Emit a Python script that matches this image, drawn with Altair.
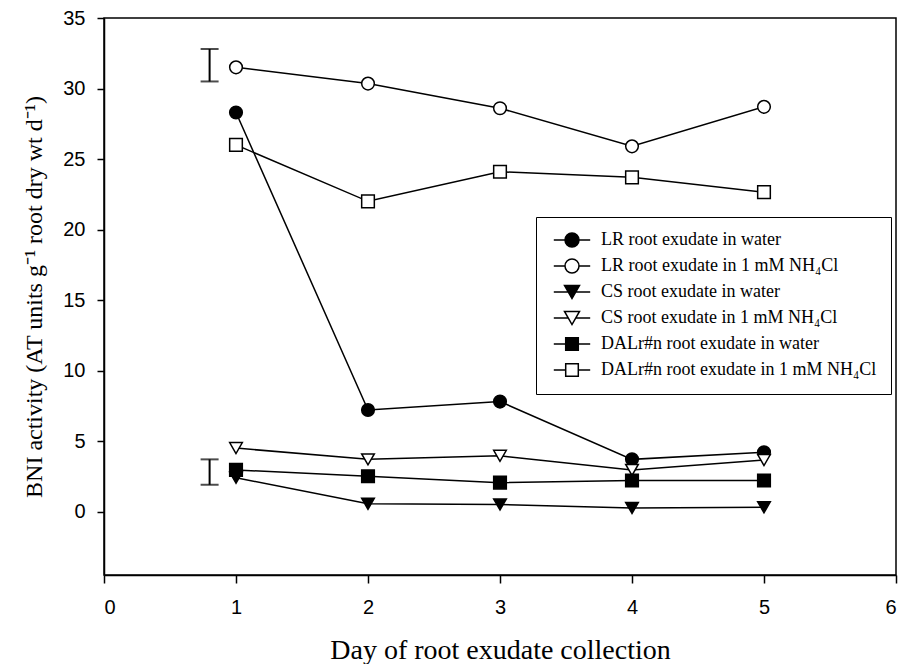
import altair as alt
import pandas as pd

days = [1, 2, 3, 4, 5]
series_names = [
    "LR root exudate in water",
    "LR root exudate in 1 mM NH₄Cl",
    "CS root exudate in water",
    "CS root exudate in 1 mM NH₄Cl",
    "DALr#n root exudate in water",
    "DALr#n root exudate in 1 mM NH₄Cl",
]
lr_water = [28.3, 7.2, 7.8, 3.7, 4.2]
lr_nh4 = [31.5, 30.35, 28.6, 25.9, 28.7]
cs_water = [2.4, 0.55, 0.5, 0.25, 0.3]
cs_nh4 = [4.5, 3.7, 3.95, 2.95, 3.65]
dal_water = [2.95, 2.5, 2.05, 2.2, 2.2]
dal_nh4 = [26.0, 22.0, 24.1, 23.7, 22.65]
values = [lr_water, lr_nh4, cs_water, cs_nh4, dal_water, dal_nh4]

point_shapes = ["circle", "circle", "triangle-down", "triangle-down", "square", "square"]
point_fills = ["black", "white", "black", "white", "black", "white"]
point_sizes = [160, 160, 225, 225, 160, 160]

# legend symbols: marker with a short line through it (unit = sqrt(symbolSize)/2)
legend_paths = [
    "M-2.6,0H-1M1,0H2.6M-1,0A1,1 0 1,0 1,0A1,1 0 1,0 -1,0Z",
    "M-2.6,0H-1M1,0H2.6M-1,0A1,1 0 1,0 1,0A1,1 0 1,0 -1,0Z",
    "M-2.6,0H-0.53M0.53,0H2.6M-1.07,-0.93L1.07,-0.93L0,0.93Z",
    "M-2.6,0H-0.53M0.53,0H2.6M-1.07,-0.93L1.07,-0.93L0,0.93Z",
    "M-2.6,0H-0.9M0.9,0H2.6M-0.9,-0.9H0.9V0.9H-0.9Z",
    "M-2.6,0H-0.9M0.9,0H2.6M-0.9,-0.9H0.9V0.9H-0.9Z",
]

err_day = [0.8, 0.8]
err_low = [30.5, 1.9]
err_high = [32.8, 3.7]

x_ticks = [0, 1, 2, 3, 4, 5, 6]
y_ticks = [0, 5, 10, 15, 20, 25, 30, 35]

rows = []
for name, vals in zip(series_names, values):
    for d, v in zip(days, vals):
        rows.append({"day": d, "value": v, "series": name})
df = pd.DataFrame(rows)
err_df = pd.DataFrame({"day": err_day, "low": err_low, "high": err_high})

SANS = "Liberation Sans"
SERIF = "Liberation Serif"

x_scale = alt.Scale(domain=[0, 6], nice=False, zero=False)
y_scale = alt.Scale(domain=[-4.5, 35], nice=False, zero=False)

x_axis = alt.Axis(
    values=x_ticks, title="Day of root exudate collection", grid=False,
    domainColor="black", domainWidth=1.5, tickColor="black", tickWidth=1.5, tickSize=8,
    labelFont=SANS, labelFontSize=20, labelColor="black", labelPadding=14,
    titleFont=SERIF, titleFontSize=28, titleFontWeight="normal", titleColor="black",
    titlePadding=19, format="d",
)
y_axis = alt.Axis(
    values=y_ticks, title="BNI activity (AT units g⁻¹ root dry wt d⁻¹)", grid=False,
    domainColor="black", domainWidth=1.5, tickColor="black", tickWidth=1.5, tickSize=7,
    labelFont=SANS, labelFontSize=20, labelColor="black", labelPadding=12,
    titleFont=SERIF, titleFontSize=24, titleFontWeight="normal", titleColor="black",
    titlePadding=16, format="d",
)


def X(field):
    return alt.X(f"{field}:Q", scale=x_scale, axis=x_axis)


def Y(field):
    return alt.Y(f"{field}:Q", scale=y_scale, axis=y_axis)


base = alt.Chart(df)

lines = base.mark_line(color="black", strokeWidth=1.5).encode(
    x=X("day"), y=Y("value"), detail="series:N", order="day:Q"
)

points = base.mark_point(filled=True, stroke="black", strokeWidth=1.5, opacity=1).encode(
    x=X("day"),
    y=Y("value"),
    shape=alt.Shape("series:N", scale=alt.Scale(domain=series_names, range=point_shapes), legend=None),
    fill=alt.Fill("series:N", scale=alt.Scale(domain=series_names, range=point_fills), legend=None),
    size=alt.Size("series:N", scale=alt.Scale(domain=series_names, range=point_sizes), legend=None),
)

leg = alt.Legend(
    title=None, orient="none", legendX=432, legendY=199, padding=14,
    strokeColor="black", fillColor="white", symbolSize=196, symbolStrokeWidth=1.5,
    symbolStrokeColor="black", symbolOffset=13, labelOffset=20, labelFont=SERIF,
    labelFontSize=18, labelColor="black", rowPadding=6, labelLimit=0,
)

legend_layer = base.transform_filter("false").mark_point(
    filled=True, stroke="black", strokeWidth=1.5, opacity=1
).encode(
    x=X("day"),
    y=Y("value"),
    shape=alt.Shape("series:N", scale=alt.Scale(domain=series_names, range=legend_paths), legend=leg),
    fill=alt.Fill("series:N", scale=alt.Scale(domain=series_names, range=point_fills), legend=leg),
    stroke=alt.Stroke("series:N", scale=alt.Scale(domain=series_names, range=["black"] * 6), legend=leg),
)

ebase = alt.Chart(err_df)
err_rule = ebase.mark_rule(color="black", strokeWidth=2).encode(
    x=X("day"), y=Y("low"), y2="high:Q"
)
err_cap_lo = ebase.mark_tick(color="black", thickness=2, size=18, orient="horizontal").encode(
    x=X("day"), y=Y("low")
)
err_cap_hi = ebase.mark_tick(color="black", thickness=2, size=18, orient="horizontal").encode(
    x=X("day"), y=Y("high")
)

chart = (
    alt.layer(lines, points, legend_layer, err_rule, err_cap_lo, err_cap_hi)
    .resolve_scale(shape="independent", fill="independent", stroke="independent", size="independent")
    .properties(
        width=792, height=557,
        padding={"left": 96, "top": 10, "right": 8, "bottom": 89},
        autosize="none",
        background="white",
    )
    .configure_view(stroke="black", strokeWidth=1.5)
)

chart.save("out.html", embed_options={"renderer": "svg", "actions": False})
